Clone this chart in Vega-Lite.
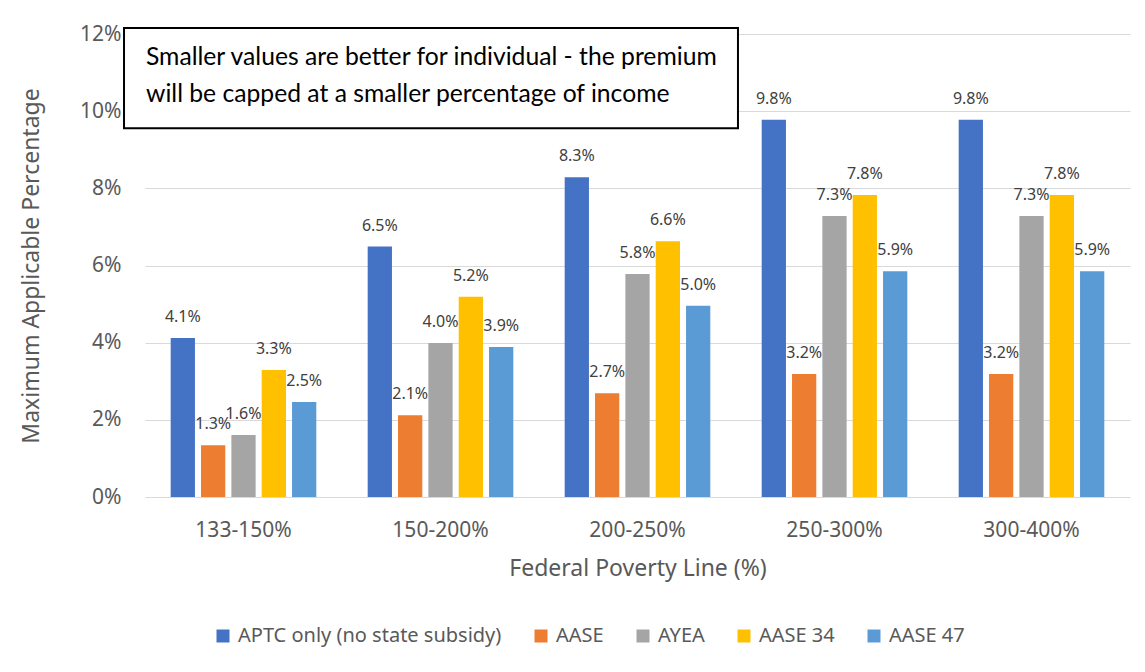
{
  "$schema": "https://vega.github.io/schema/vega-lite/v6.json",
  "width": 985,
  "height": 463,
  "autosize": {"type": "none"},
  "padding": {"left": 145, "top": 34, "right": 15, "bottom": 175},
  "background": "white",
  "config": {
    "font": "Noto Sans",
    "view": {"stroke": null},
    "axis": {"labelColor": "#595959", "titleColor": "#595959", "titleFontWeight": "normal", "gridColor": "#D9D9D9", "domainColor": "#D9D9D9", "ticks": false}
  },
  "datasets": {
    "bars": [
      {"fpl": "133-150%", "program": "APTC only (no state subsidy)", "value": 0.0412},
      {"fpl": "133-150%", "program": "AASE", "value": 0.0134},
      {"fpl": "133-150%", "program": "AYEA", "value": 0.0161},
      {"fpl": "133-150%", "program": "AASE 34", "value": 0.0329},
      {"fpl": "133-150%", "program": "AASE 47", "value": 0.0246},
      {"fpl": "150-200%", "program": "APTC only (no state subsidy)", "value": 0.0649},
      {"fpl": "150-200%", "program": "AASE", "value": 0.0212},
      {"fpl": "150-200%", "program": "AYEA", "value": 0.0399},
      {"fpl": "150-200%", "program": "AASE 34", "value": 0.0519},
      {"fpl": "150-200%", "program": "AASE 47", "value": 0.0389},
      {"fpl": "200-250%", "program": "APTC only (no state subsidy)", "value": 0.0829},
      {"fpl": "200-250%", "program": "AASE", "value": 0.0269},
      {"fpl": "200-250%", "program": "AYEA", "value": 0.0578},
      {"fpl": "200-250%", "program": "AASE 34", "value": 0.0663},
      {"fpl": "200-250%", "program": "AASE 47", "value": 0.0496},
      {"fpl": "250-300%", "program": "APTC only (no state subsidy)", "value": 0.0978},
      {"fpl": "250-300%", "program": "AASE", "value": 0.0319},
      {"fpl": "250-300%", "program": "AYEA", "value": 0.0728},
      {"fpl": "250-300%", "program": "AASE 34", "value": 0.0783},
      {"fpl": "250-300%", "program": "AASE 47", "value": 0.0585},
      {"fpl": "300-400%", "program": "APTC only (no state subsidy)", "value": 0.0978},
      {"fpl": "300-400%", "program": "AASE", "value": 0.0319},
      {"fpl": "300-400%", "program": "AYEA", "value": 0.0728},
      {"fpl": "300-400%", "program": "AASE 34", "value": 0.0783},
      {"fpl": "300-400%", "program": "AASE 47", "value": 0.0585}
    ],
    "box": [
      {"x": -0.0213, "x2": 0.602, "y": 0.12155, "y2": 0.0956}
    ],
    "note": [
      {"x": 0.001, "y": 0.1137, "text": "Smaller values are better for individual - the premium"},
      {"x": 0.001, "y": 0.1041, "text": "will be capped at a smaller percentage of income"}
    ]
  },
  "resolve": {"scale": {"x": "independent"}},
  "layer": [
    {
      "data": {"name": "bars"},
      "encoding": {
        "x": {
          "field": "fpl", "type": "nominal", "sort": null,
          "scale": {"paddingInner": 0.23, "paddingOuter": 0.115},
          "axis": {"title": "Federal Poverty Line (%)", "labelAngle": 0, "labelFontSize": 21, "titleFontSize": 23, "labelPadding": 22, "titlePadding": 17, "domain": true, "domainColor": "#D9D9D9"}
        },
        "xOffset": {
          "field": "program", "type": "nominal", "sort": null,
          "scale": {"paddingInner": 0.2, "paddingOuter": 0.1}
        },
        "y": {
          "field": "value", "type": "quantitative",
          "scale": {"domain": [0, 0.12], "nice": false},
          "axis": {"title": "Maximum Applicable Percentage", "format": ".0%", "values": [0, 0.02, 0.04, 0.06, 0.08, 0.1, 0.12], "domain": false, "labelFontSize": 21, "titleFontSize": 23, "labelPadding": 24, "titlePadding": 36}
        }
      },
      "layer": [
        {
          "mark": {"type": "bar"},
          "encoding": {
            "color": {
              "field": "program", "type": "nominal", "sort": null,
              "scale": {"domain": ["APTC only (no state subsidy)", "AASE", "AYEA", "AASE 34", "AASE 47"], "range": ["#4472C4", "#ED7D31", "#A5A5A5", "#FFC000", "#5B9BD5"]},
              "legend": {"title": null, "orient": "none", "legendX": 68, "legendY": 592, "direction": "horizontal", "labelFontSize": 20, "labelLimit": 0, "labelColor": "#595959", "symbolType": "square", "symbolSize": 169, "symbolStrokeWidth": 0, "columnPadding": 29, "labelOffset": 5}
            }
          }
        },
        {
          "mark": {"type": "text", "fontSize": 16, "color": "#404040", "dy": -16, "baseline": "alphabetic"},
          "encoding": {
            "text": {"field": "value", "type": "quantitative", "format": ".1%"}
          }
        }
      ]
    },
    {
      "data": {"name": "box"},
      "mark": {"type": "rect", "fill": "white", "stroke": "black", "strokeWidth": 2},
      "encoding": {
        "x": {"field": "x", "type": "quantitative", "scale": {"domain": [0, 1], "nice": false, "zero": false}, "axis": null},
        "x2": {"field": "x2"},
        "y": {"field": "y", "type": "quantitative"},
        "y2": {"field": "y2"}
      }
    },
    {
      "data": {"name": "note"},
      "mark": {"type": "text", "align": "left", "baseline": "middle", "fontSize": 24.7, "font": "Lato", "color": "black"},
      "encoding": {
        "x": {"field": "x", "type": "quantitative", "scale": {"domain": [0, 1], "nice": false, "zero": false}, "axis": null},
        "y": {"field": "y", "type": "quantitative"},
        "text": {"field": "text", "type": "nominal"}
      }
    }
  ]
}
